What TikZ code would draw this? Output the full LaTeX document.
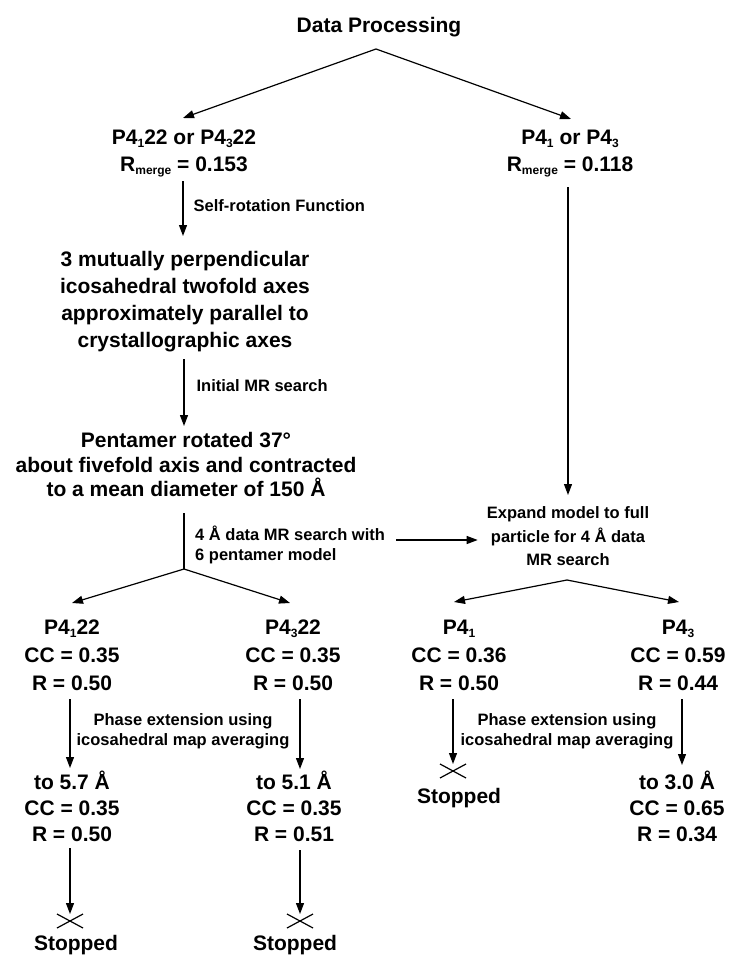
\documentclass[tikz,border=0pt]{standalone}
\usepackage{fontspec}
\setmainfont{Liberation Sans}
\usetikzlibrary{arrows.meta}

\newcommand\lowidx[1]{\raisebox{-3pt}{\fontsize{12}{12}\selectfont #1}}

\begin{document}
\begin{tikzpicture}[
    x=1pt, y=-1pt,
    % --- Stílusok ---
    big/.style = {font=\fontsize{21}{#1}\selectfont\bfseries, inner sep=0pt, anchor=base, align=center},
    big/.default = 27,
    small/.style = {font=\fontsize{16.5}{#1}\selectfont\bfseries, inner sep=0pt},
    small/.default = 20.5,
    link/.style = {color=black, line width=1.2pt},             % sima vonal
    vec/.style = {link, -{Triangle[length=11pt,width=8pt]}},   % nyíl
    ]

    \useasboundingbox (0,0) rectangle (728,955);

    % --- Felső szint (base = utolsó sor alapvonala) ---
    \node[big] (title) at (379,32.6) {Data Processing};
    \node[big] (grpA) at (184,171.6) {P4\lowidx{1}22 or P4\lowidx{3}22\\R\lowidx{merge} = 0.153};
    \node[big] (grpB) at (570,171.6) {P4\lowidx{1} or P4\lowidx{3}\\R\lowidx{merge} = 0.118};
    \coordinate (apex) at ([xshift=-3pt,yshift=-16.4pt]title.base);

    \draw[vec] (apex) -- ([xshift=-1pt,yshift=53.6pt]grpA.base);
    \draw[vec] (apex) -- ([xshift=1pt,yshift=52.6pt]grpB.base);

    % --- Bal ág ---
    \node[big] (axes) at (185,347.6) {3 mutually perpendicular\\icosahedral twofold axes\\approximately parallel to\\crystallographic axes};
    \node[big={24.5}] (pent) at (186,496.6) {Pentamer rotated 37°\\about fivefold axis and contracted\\to a mean diameter of 150 Å};

    \draw[vec] ([xshift=-1pt,yshift=-9.4pt]grpA.base) -- node[small, right=10pt, pos=0.45] (selfrot) {Self-rotation Function} ([xshift=-2pt,yshift=111.6pt]axes.base);
    \draw[vec] ([xshift=-1pt,yshift=-11.4pt]axes.base) -- node[small, right=12pt, pos=0.39] (initmr) {Initial MR search} ([xshift=-2pt,yshift=70.6pt]pent.base);

    \coordinate (forkL) at ([xshift=-2pt,yshift=-72.4pt]pent.base);
    \draw[link] ([xshift=-2pt,yshift=-16.4pt]pent.base) -- (forkL);
    \node[small={20}, anchor=base west, align=left] (mr4) at (195,560.9) {4 Å data MR search with\\6 pentamer model};

    % --- Jobb ág ---
    \node[small={23.5}, anchor=base, align=center] (expand) at (568,565.9) {Expand model to full\\particle for 4 Å data\\MR search};
    \draw[vec] ([xshift=-2pt,yshift=-15.4pt]grpB.base) -- ([yshift=70.9pt]expand.base);
    \draw[vec] ([xshift=11pt,yshift=20.9pt]mr4.base east) -- ([xshift=-9pt,yshift=25.9pt]expand.base west);
    \coordinate (forkR) at ([xshift=-1pt,yshift=-14.1pt]expand.base);

    % --- Tércsoportok ---
    \node[big={28}] (nA) at (72,690.6) {P4\lowidx{1}22\\CC = 0.35\\R = 0.50};
    \node[big={28}] (nB) at (293,690.6) {P4\lowidx{3}22\\CC = 0.35\\R = 0.50};
    \node[big={28}] (nC) at (459,690.6) {P4\lowidx{1}\\CC = 0.36\\R = 0.50};
    \node[big={28}] (nD) at (678,690.6) {P4\lowidx{3}\\CC = 0.59\\R = 0.44};

    \draw[vec] (forkL) -- ([yshift=87.6pt]nA.base);
    \draw[vec] (forkL) -- ([xshift=-3pt,yshift=87.6pt]nB.base);
    \draw[vec] (forkR) -- ([xshift=-5pt,yshift=88.6pt]nC.base);
    \draw[vec] (forkR) -- ([xshift=1pt,yshift=88.6pt]nD.base);

    % --- Fázis kiterjesztés ---
    \node[small, anchor=base, align=center] (phaseL) at (183,745.9) {Phase extension using\\icosahedral map averaging};
    \node[small, anchor=base, align=center] (phaseR) at (567,745.9) {Phase extension using\\icosahedral map averaging};

    \node[big={26}] (rA) at (72,841.6) {to 5.7 Å\\CC = 0.35\\R = 0.50};
    \node[big={26}] (rB) at (294,841.6) {to 5.1 Å\\CC = 0.35\\R = 0.51};
    \node[big={26}] (rD) at (677,841.6) {to 3.0 Å\\CC = 0.65\\R = 0.34};

    \node[big] (sA) at (76,950) {Stopped};
    \node[big] (sB) at (295,950) {Stopped};
    \node[big] (sC) at (459,803.6) {Stopped};
    \coordinate (xA) at ([xshift=-6pt,yshift=29pt]sA.base);
    \coordinate (xB) at ([xshift=5pt,yshift=29pt]sB.base);
    \coordinate (xC) at ([xshift=-6pt,yshift=32.6pt]sC.base);

    \draw[vec] ([xshift=-2pt,yshift=-8.4pt]nA.base) -- ([xshift=-2pt,yshift=73.6pt]rA.base);
    \draw[vec] ([xshift=7pt,yshift=-8.4pt]nB.base) -- ([xshift=6pt,yshift=72.6pt]rB.base);
    \draw[vec] ([xshift=-6pt,yshift=-8.4pt]nC.base) -- ([yshift=7pt]xC);
    \draw[vec] ([xshift=4pt,yshift=-8.4pt]nD.base) -- ([xshift=5pt,yshift=76.6pt]rD.base);
    \draw[vec] ([xshift=-2pt,yshift=-6.4pt]rA.base) -- ([yshift=7pt]xA);
    \draw[vec] ([xshift=6pt,yshift=-8.4pt]rB.base) -- ([yshift=7pt]xB);

    % --- Leállítás jelek ---
    \foreach \s in {xA,xB,xC} {
        \draw[link] ([xshift=-13pt,yshift=-7pt]\s) -- ([xshift=13pt,yshift=7pt]\s)
                    ([xshift=-13pt,yshift=7pt]\s) -- ([xshift=13pt,yshift=-7pt]\s);
    }
\end{tikzpicture}
\end{document}
